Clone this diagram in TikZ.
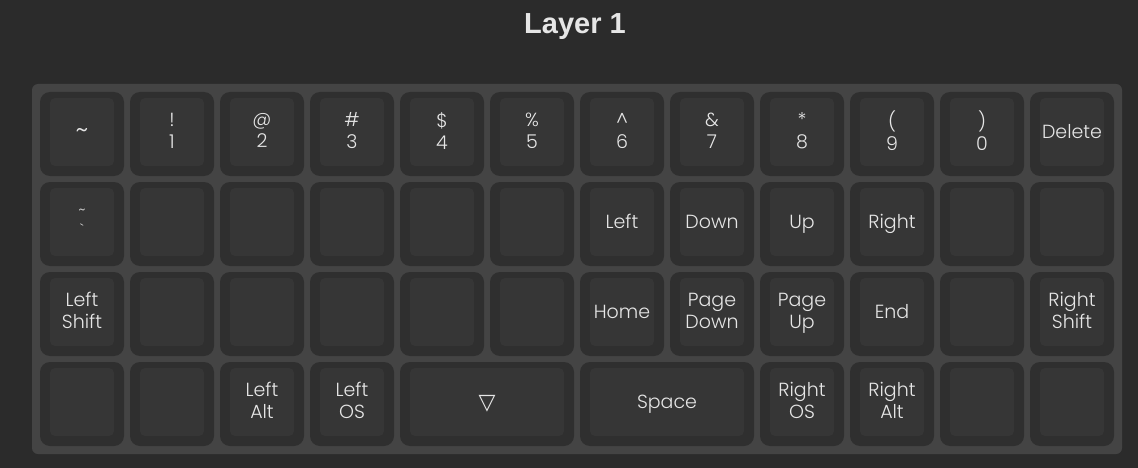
\documentclass[tikz,border=0pt]{standalone}
\usepackage{fontspec}
\setmainfont{Poppins}[UprightFont=* Light]
\newfontfamily\titlefont{Liberation Sans}
\newfontfamily\symbfont{DejaVu Sans}
\usetikzlibrary{positioning}
\definecolor{kbback}{RGB}{43,43,43}
\definecolor{kbplate}{RGB}{68,68,68}
\definecolor{kbkeyout}{RGB}{47,47,47}
\definecolor{kbkeyin}{RGB}{54,54,54}
\definecolor{kbtext}{RGB}{230,230,230}
\tikzset{
  kbkey/.style={fill=kbkeyout, rounded corners=10pt, minimum width=84pt,
    minimum height=84pt, inner sep=0pt, align=center, text=kbtext,
    font=\fontsize{19}{22}\selectfont,
    execute at begin node=\strut, execute at end node=\strut,
    path picture={\fill[kbkeyin, rounded corners=5pt]
      ([xshift=10pt,yshift=-6pt]path picture bounding box.north west) rectangle
      ([xshift=-10pt,yshift=10pt]path picture bounding box.south east);}},
  kbwide/.style={kbkey, minimum width=174pt},
  kbtitle/.style={text=kbtext, font=\titlefont\bfseries\fontsize{29}{34}\selectfont}
}
\begin{document}
\begin{tikzpicture}[x=1pt, y=-1pt]
  \fill[kbback] (0,0) rectangle (1138,468);
  \useasboundingbox (0,0) rectangle (1138,468);
  \node[kbtitle] (title) at (575,27) {Layer 1};
  \fill[kbplate, rounded corners=6pt] (32,84) rectangle (1122,454);
  % row A
  \node[kbkey, font=\fontsize{26}{22}\selectfont] (kA1) at (82,134) {\textasciitilde};
  \node[kbkey] (kA2) at (172,134) {!\\1};
  \node[kbkey] (kA3) at (262,134) {@\\2};
  \node[kbkey] (kA4) at (352,134) {\#\\3};
  \node[kbkey] (kA5) at (442,134) {\$\\4};
  \node[kbkey] (kA6) at (532,134) {\%\\5};
  \node[kbkey] (kA7) at (622,134) {\textasciicircum\\6};
  \node[kbkey] (kA8) at (712,134) {\&\\7};
  \node[kbkey] (kA9) at (802,134) {*\\8};
  \node[kbkey] (kA10) at (892,134) {(\\9};
  \node[kbkey] (kA11) at (982,134) {)\\0};
  \node[kbkey] (kA12) at (1072,134) {Delete};
  % row B
  \node[kbkey, font=\fontsize{14}{15}\selectfont] (kB1) at (82,224) {\raisebox{5pt}{\textasciitilde}\\\textasciigrave};
  \node[kbkey] (kB2) at (172,224) {};
  \node[kbkey] (kB3) at (262,224) {};
  \node[kbkey] (kB4) at (352,224) {};
  \node[kbkey] (kB5) at (442,224) {};
  \node[kbkey] (kB6) at (532,224) {};
  \node[kbkey] (kB7) at (622,224) {Left};
  \node[kbkey] (kB8) at (712,224) {Down};
  \node[kbkey] (kB9) at (802,224) {Up};
  \node[kbkey] (kB10) at (892,224) {Right};
  \node[kbkey] (kB11) at (982,224) {};
  \node[kbkey] (kB12) at (1072,224) {};
  % row C
  \node[kbkey] (kC1) at (82,314) {Left\\Shift};
  \node[kbkey] (kC2) at (172,314) {};
  \node[kbkey] (kC3) at (262,314) {};
  \node[kbkey] (kC4) at (352,314) {};
  \node[kbkey] (kC5) at (442,314) {};
  \node[kbkey] (kC6) at (532,314) {};
  \node[kbkey] (kC7) at (622,314) {Home};
  \node[kbkey] (kC8) at (712,314) {Page\\Down};
  \node[kbkey] (kC9) at (802,314) {Page\\Up};
  \node[kbkey] (kC10) at (892,314) {End};
  \node[kbkey] (kC11) at (982,314) {};
  \node[kbkey] (kC12) at (1072,314) {Right\\Shift};
  % row D
  \node[kbkey] (kD1) at (82,404) {};
  \node[kbkey] (kD2) at (172,404) {};
  \node[kbkey] (kD3) at (262,404) {Left\\Alt};
  \node[kbkey] (kD4) at (352,404) {Left\\OS};
  \node[kbwide, font=\symbfont\fontsize{22}{26}\selectfont] (kD5) at (487,404) {▽};
  \node[kbwide] (kD7) at (667,404) {Space};
  \node[kbkey] (kD9) at (802,404) {Right\\OS};
  \node[kbkey] (kD10) at (892,404) {Right\\Alt};
  \node[kbkey] (kD11) at (982,404) {};
  \node[kbkey] (kD12) at (1072,404) {};
\end{tikzpicture}
\end{document}
